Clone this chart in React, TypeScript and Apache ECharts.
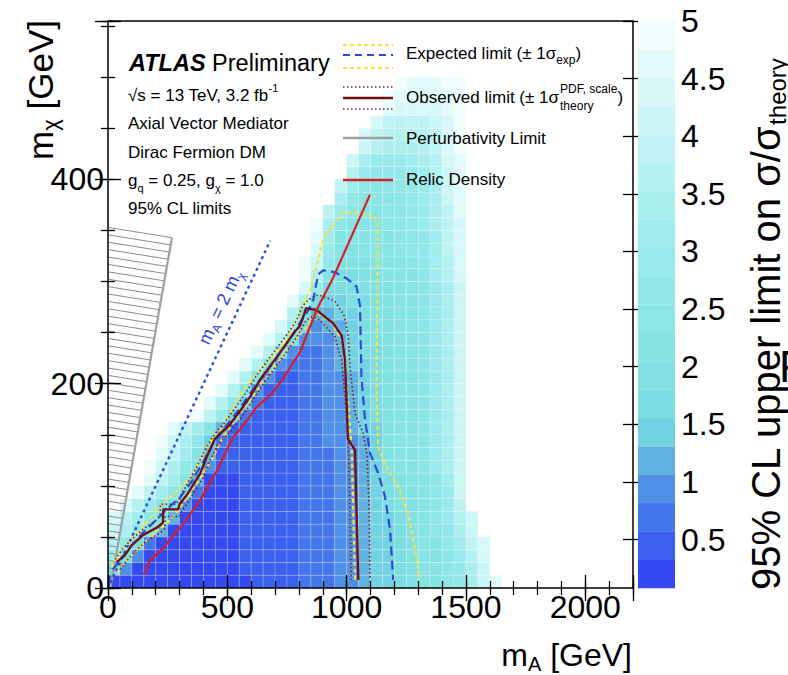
import React, { useEffect, useRef } from 'react';
import * as echarts from 'echarts';

const FONT = '"Liberation Sans", Arial, Helvetica, sans-serif';

// ---------- axes ----------
const X_MAX = 2200;
const Y_MAX = 555;
const xTickLabels = [0, 500, 1000, 1500, 2000];
const yTickLabels = [0, 200, 400];
const zTickValues = [0.5, 1, 1.5, 2, 2.5, 3, 3.5, 4, 4.5, 5];

// ---------- colour scale (20 contour bands between zMin and zMax) ----------
const zMin = 0.08;
const zMax = 5;
const bandColors = [
  '#3349f2', '#3a60ee', '#4376ea', '#4f8fe6', '#60b0e0',
  '#72d2e2', '#7cdde3', '#82e2e3', '#87e4e4', '#8ce6e6',
  '#92e8e8', '#99eaea', '#a1ecec', '#aaeeee', '#b4f1f1',
  '#bff3f3', '#cbf6f6', '#d7f8f8', '#e3fbfb', '#effdfd',
];
const bandCodes = '0123456789abcdefghij';

// ---------- heat map: bins of 50 GeV (m_A) x 12.5 GeV (m_chi) ----------
const xBin = 50;
const yBin = 12.5;
// one entry per m_chi bin (from bottom): [first m_A bin, band code per m_A bin]
const heatRows: [number, string][] = [
  [0, '000000000000 1111 222 33 4 55 6 7 88 9 a d g i'],
  [0, '6 3 000000000 11111 222 33 4 55 6 7 88 9 a d g'],
  [0, 'b 6 3 00000000 11111 222 33 4 55 6 7 88 9 b e h'],
  [0, 'e a 6 2 0000000 11111 222 33 4 55 6 7 88 a c f h'],
  [0, 'g d a 7 4 000000 11111 222 33 4 55 6 7 8 9 a d g'],
  [0, 'h e c 9 7 4 00000 11111 222 33 4 55 6 7 8 9 b e g'],
  [1, 'h e b 8 6 3 0000 11111 222 33 4 5 6 7 7 8 9 b f'],
  [2, 'i f c 9 6 2 000 11111 222 33 4 5 6 7 7 8 9 b g'],
  [3, 'i f c 8 4 000 11111 222 33 4 5 6 7 8 8 9 c g'],
  [3, 'j g d a 7 3 1111111 222 33 4 5 7 8 8 9 b d g'],
  [4, 'i f c 8 4 1111111 222 33 4 5 7 8 8 9 b d g'],
  [4, 'j g d a 5 2 111111 2 2 3 3 3 4 5 7 8 8 9 b d g'],
  [5, 'i f c 8 4 111111 22 33 4 5 5 7 8 8 9 b d g'],
  [7, 'j f b 5 2 1111 22 33 4 5 6 7 8 8 9 b d g'],
  [8, 'i e a 5 2 111 22 33 4 5 6 7 8 8 9 b d g'],
  [9, 'i e 8 3 111 22 33 4 5 6 7 8 8 9 b d g'],
  [10, 'i e 7 3 11 22 33 4 5 6 7 8 8 9 b d g'],
  [11, 'i e 7 3 222 3 4 5 5 6 7 8 8 9 b d g'],
  [12, 'i e 6 3 22 3 4 5 6 6 7 8 8 9 b d g'],
  [13, 'i e 6 3 3 3 4 5 6 7 7 8 8 9 b d g'],
  [14, 'h c 5 3 4 4 5 6 7 7 8 8 9 b d g'],
  [15, 'e 6 4 4 5 5 6 7 7 8 8 9 b d g'],
  [15, 'i d 6 5 5 6 6 7 7 8 8 9 b d g'],
  [16, 'h b 6 6 6 7 7 7 8 8 9 b d g'],
  [16, 'j e 8 6 6 7 7 8 8 8 9 c e h'],
  [16, 'j g a 7 7 7 8 8 8 9 a c e h'],
  [17, 'h b 8 7 8 8 8 9 9 a c f h'],
  [17, 'i c 8 8 8 8 8 9 9 a c f h'],
  [17, 'j d 9 8 8 8 9 9 a b d f h'],
  [18, 'f b 9 8 8 9 9 a b d f i'],
  [19, 'd a 9 9 9 9 a b d g i'],
  [19, 'f c a 9 9 a a b d g i'],
  [20, 'e b a a a b c e g i'],
  [20, 'g d b b b c d e h i'],
  [21, 'g e d d d e f h j'],
  [21, 'h f e e e e f h j'],
  [22, 'h f f f f g h j'],
  [23, 'i h h h h i j'],
  [23, 'j i i i i i j'],
  [24, 'j i i i j j'],
];

// ---------- contours [m_A, m_chi] ----------
const observed = [
  [36, 25], [70, 32], [100, 42], [148, 52], [211, 60], [230, 64], [232, 77], [294, 77], [300, 82],
  [330, 91], [386, 112], [413, 128], [448, 146], [469, 151], [504, 158], [553, 173], [595, 187],
  [637, 204], [707, 226], [777, 249], [805, 257], [822, 268], [830, 274], [874, 272], [944, 259],
  [979, 247], [986, 236], [993, 223], [1000, 184], [1005, 146], [1035, 135], [1049, 8],
];
const observedUp = [
  [30, 28], [60, 38], [100, 48], [150, 58], [198, 66], [218, 70], [220, 82], [285, 82], [316, 95],
  [371, 118], [400, 132], [433, 146], [455, 153], [490, 162], [538, 178], [580, 192], [622, 208],
  [692, 230], [762, 252], [790, 262], [815, 276], [839, 282], [880, 287], [950, 281], [991, 266],
  [1007, 246], [1014, 217], [1035, 171], [1070, 151], [1086, 129], [1095, 73], [1098, 8],
];
const observedDown = [
  [50, 18], [80, 27], [110, 35], [160, 46], [220, 54], [238, 58], [240, 70], [300, 70], [307, 74],
  [343, 87], [399, 108], [426, 124], [461, 140], [482, 146], [517, 154], [566, 169], [608, 184],
  [650, 200], [720, 222], [790, 245], [830, 262], [860, 266], [888, 262], [951, 246], [979, 223],
  [1000, 171], [1007, 138], [1014, 80], [1019, 8],
];
const expected = [
  [20, 18], [60, 30], [100, 42], [150, 55], [200, 66], [250, 78], [300, 88], [350, 104], [400, 124],
  [450, 145], [500, 160], [550, 175], [600, 192], [650, 207], [700, 223], [760, 243], [800, 258],
  [840, 272], [860, 282], [867, 291], [881, 307], [902, 311], [951, 309], [1000, 303], [1042, 295],
  [1056, 276], [1062, 207], [1077, 165], [1098, 132], [1133, 112], [1161, 89], [1182, 57], [1195, 8],
];
const expectedUp = [
  [15, 20], [36, 31], [106, 50], [160, 64], [218, 80], [290, 95], [357, 112], [420, 140], [480, 158],
  [567, 194], [651, 217], [749, 243], [805, 270], [853, 295], [874, 315], [902, 341], [951, 357],
  [987, 368], [1056, 367], [1118, 363], [1132, 357], [1125, 203], [1132, 138], [1160, 122],
  [1215, 99], [1257, 73], [1285, 40], [1306, 8],
];
const expectedDown = [
  [40, 15], [60, 22], [100, 32], [150, 44], [200, 55], [250, 64], [300, 78], [350, 95], [400, 112],
  [440, 128], [480, 147], [520, 160], [560, 173], [620, 192], [690, 214], [760, 236], [830, 255],
  [860, 265], [888, 268], [930, 262], [986, 240], [1021, 138], [1035, 8],
];
const relicDensity = [
  [150, 13], [176, 27], [232, 39], [267, 50], [316, 63], [386, 86], [455, 114], [525, 148], [553, 155],
  [623, 177], [686, 190], [728, 203], [805, 231], [874, 272], [944, 304], [1098, 385],
];
const massDiagonal = [[10, 5], [680, 340]];
const perturbativity = [[10, 0], [268, 343]];

// ---------- layout ----------
const PLOT = { left: 108, top: 21, width: 525, height: 567 };
const CBAR = { left: 638, top: 21, width: 37, height: 567 };

const bandStep = (zMax - zMin) / bandColors.length;
const colorOf = (v: number) => {
  const k = Math.max(0, Math.min(bandColors.length - 1, Math.floor((v - zMin) / bandStep)));
  return bandColors[k];
};

function buildHeatData() {
  const out: number[][] = [];
  heatRows.forEach(([start, codes], r) => {
    const cs = codes.replace(/\s+/g, '');
    for (let i = 0; i < cs.length; i++) {
      const k = bandCodes.indexOf(cs[i]);
      if (k < 0) continue;
      out.push([(start + i) * xBin, r * yBin, zMin + (k + 0.5) * bandStep]);
    }
  });
  return out;
}

function buildOption(): any {
  const tickStyle = { color: '#000', width: 1.3 };
  const common = { type: 'value', axisLine: { show: false }, splitLine: { show: false }, z: 10 };
  const lineSeries = (data: number[][], color: string, width: number, type: any, z = 5) => ({
    type: 'line', xAxisIndex: 0, yAxisIndex: 0, data, showSymbol: false, symbol: 'none',
    lineStyle: { color, width, type }, z, clip: true, silent: true,
  });
  return {
    animation: false,
    backgroundColor: '#fff',
    textStyle: { fontFamily: FONT },
    grid: [
      { ...PLOT, show: true, borderColor: '#000', borderWidth: 1.5, backgroundColor: 'transparent', z: 10 },
      { ...PLOT, show: false },
      { ...CBAR, show: false },
    ],
    xAxis: [
      { ...common, gridIndex: 0, min: 0, max: X_MAX, interval: 500, position: 'bottom',
        axisTick: { inside: true, length: 13, lineStyle: tickStyle },
        axisLabel: { margin: 3, fontSize: 32, color: '#000', fontFamily: FONT,
          formatter: (v: number) => (xTickLabels.includes(v) ? String(v) : '') } },
      { ...common, gridIndex: 0, min: 0, max: X_MAX, interval: 500, position: 'top',
        axisTick: { inside: true, length: 13, lineStyle: tickStyle }, axisLabel: { show: false } },
      { ...common, gridIndex: 1, min: 0, max: X_MAX, interval: 100, position: 'bottom',
        axisTick: { inside: true, length: 7, lineStyle: tickStyle }, axisLabel: { show: false } },
      { ...common, gridIndex: 1, min: 0, max: X_MAX, interval: 100, position: 'top',
        axisTick: { inside: true, length: 7, lineStyle: tickStyle }, axisLabel: { show: false } },
      { type: 'value', gridIndex: 2, min: 0, max: 1, show: false },
    ],
    yAxis: [
      { ...common, gridIndex: 0, min: 0, max: Y_MAX, interval: 200, position: 'left',
        axisTick: { inside: true, length: 13, lineStyle: tickStyle },
        axisLabel: { margin: 4, fontSize: 32, color: '#000', fontFamily: FONT,
          formatter: (v: number) => (yTickLabels.includes(v) ? String(v) : '') } },
      { ...common, gridIndex: 0, min: 0, max: Y_MAX, interval: 200, position: 'right',
        axisTick: { inside: true, length: 13, lineStyle: tickStyle }, axisLabel: { show: false } },
      { ...common, gridIndex: 1, min: 0, max: Y_MAX, interval: 50, position: 'left',
        axisTick: { inside: true, length: 7, lineStyle: tickStyle }, axisLabel: { show: false } },
      { ...common, gridIndex: 1, min: 0, max: Y_MAX, interval: 50, position: 'right',
        axisTick: { inside: true, length: 7, lineStyle: tickStyle }, axisLabel: { show: false } },
      { ...common, gridIndex: 2, min: zMin, max: zMax, position: 'right',
        axisTick: { inside: true, length: 15, lineStyle: tickStyle, customValues: zTickValues },
        axisLabel: { margin: 6, fontSize: 32, color: '#000', fontFamily: FONT, customValues: zTickValues } },
    ],
    series: [
      {
        type: 'custom', xAxisIndex: 0, yAxisIndex: 0, z: 1, clip: true, silent: true,
        encode: { x: 0, y: 1 },
        data: buildHeatData(),
        renderItem: (_p: any, api: any) => {
          const x0 = api.value(0), y0 = api.value(1), v = api.value(2);
          const a = api.coord([x0, y0]);
          const b = api.coord([x0 + xBin, y0 + yBin]);
          return {
            type: 'rect',
            shape: { x: a[0], y: b[1], width: b[0] - a[0], height: a[1] - b[1] },
            style: { fill: colorOf(v), stroke: 'rgba(255,255,255,0.3)', lineWidth: 0.6 },
          };
        },
      },
      {
        type: 'custom', xAxisIndex: 0, yAxisIndex: 0, z: 3, silent: true,
        data: [[0, 0]],
        renderItem: (_p: any, api: any) => {
          const top = api.coord(perturbativity[1]);
          const bot = api.coord(perturbativity[0]);
          const origin = api.coord([0, 0]);
          const left = origin[0] + 1;
          const bottomY = origin[1];
          const k = 0.16;
          const s = (bot[0] - top[0]) / (bot[1] - top[1]);
          const children: any[] = [];
          for (let y = top[1] - 10; y < bottomY; y += 7.4) {
            const x = (top[0] + s * (y - k * left - top[1])) / (1 - s * k);
            let yEnd = y + k * (x - left);
            if (yEnd < top[1] - 0.5) continue;
            let xEnd = x;
            if (yEnd > bottomY) { yEnd = bottomY; xEnd = left + (bottomY - y) / k; }
            children.push({ type: 'line', shape: { x1: left, y1: y, x2: xEnd, y2: yEnd },
              style: { stroke: '#8c8c8c', lineWidth: 1 } });
          }
          return { type: 'group', children };
        },
      },
      lineSeries(perturbativity, '#a0a0a0', 2.2, 'solid', 4),
      lineSeries(massDiagonal, '#2b4ee0', 2.4, [3, 3.5]),
      lineSeries(expectedUp, '#f2e14c', 2.2, [4, 3]),
      lineSeries(expectedDown, '#f2e14c', 2.2, [4, 3]),
      lineSeries(expected, '#2a4bd7', 2.2, [9, 5]),
      lineSeries(observedUp, '#6a2a2a', 1.6, [1.5, 2.5]),
      lineSeries(observedDown, '#6a2a2a', 1.6, [1.5, 2.5]),
      lineSeries(observed, '#6e1014', 2.3, 'solid', 6),
      lineSeries(relicDensity, '#d3202a', 2.2, 'solid', 7),
      {
        type: 'custom', xAxisIndex: 4, yAxisIndex: 4, silent: true,
        data: bandColors.map((_c, i) => [i]),
        renderItem: (_p: any, api: any) => {
          const i = api.value(0);
          const lo = zMin + i * bandStep;
          const a = api.coord([0, lo]);
          const b = api.coord([1, lo + bandStep]);
          return { type: 'rect', shape: { x: a[0], y: b[1], width: b[0] - a[0], height: a[1] - b[1] + 0.3 },
            style: { fill: bandColors[i] } };
        },
      },
    ],
  };
}

const measure = (txt: string, font: string) => {
  const ctx = document.createElement('canvas').getContext('2d');
  if (!ctx) return txt.length * 8;
  ctx.font = font;
  return ctx.measureText(txt).width;
};

function txt(x: number, y: number, text: string, rich: any, extra: any = {}, rotation = 0) {
  const align = extra.align || 'left';
  return {
    type: 'text', x, y, rotation, z: 50, silent: true,
    style: { text, rich, fill: extra.fill || '#000', fontFamily: FONT, fontSize: extra.fontSize || 17,
      align, textAlign: align, verticalAlign: 'middle', textVerticalAlign: 'middle' },
  };
}

function buildGraphics(chart: any) {
  const g: any[] = [];
  const L1 = 343, L2 = 393, TX = 406;
  const seg = (y: number, stroke: string, lineWidth: number, lineDash?: number[]) => g.push({
    type: 'line', z: 50, silent: true, shape: { x1: L1, y1: y, x2: L2, y2: y },
    style: { stroke, lineWidth, lineDash },
  });
  seg(45, '#f2e14c', 2.2, [4, 3]);
  seg(55, '#2a4bd7', 2.2, [7, 5]);
  seg(68, '#f2e14c', 2.2, [4, 3]);
  seg(87, '#7a2a2a', 1.6, [1.5, 2.5]);
  seg(98, '#6e1014', 2.5);
  seg(109, '#7a2a2a', 1.6, [1.5, 2.5]);
  seg(138, '#a0a0a0', 2.5);
  seg(180, '#d3202a', 2.5);

  const LF = 17;
  const base = { a: { fontSize: LF, fontFamily: FONT, lineHeight: 26, verticalAlign: 'middle' },
    s: { fontSize: 12, fontFamily: FONT, lineHeight: 12, verticalAlign: 'bottom' },
    p: { fontSize: 12, fontFamily: FONT, lineHeight: 12, verticalAlign: 'top' } };
  g.push(txt(TX, 53, '{a|Expected limit (± 1σ}{s|exp}{a|)}', base));
  const obsMain = 'Observed limit (± 1σ';
  g.push(txt(TX, 97, `{a|${obsMain}}`, base));
  const w = measure(obsMain, `${LF}px ${FONT}`);
  g.push(txt(TX + w + 1, 89, 'PDF, scale', null, { fontSize: 12 }));
  g.push(txt(TX + w + 1, 106, 'theory', null, { fontSize: 12 }));
  const w2 = measure('PDF, scale', `12px ${FONT}`);
  g.push(txt(TX + w + w2 + 1, 97, ')', null, { fontSize: LF }));
  g.push(txt(TX, 138, 'Perturbativity Limit', null, { fontSize: LF }));
  g.push(txt(TX, 179, 'Relic Density', null, { fontSize: LF }));

  // info block
  const IX = 128;
  g.push(txt(129, 63, '{b|ATLAS}{r| Preliminary}', {
    b: { fontSize: 23.5, fontWeight: 'bold', fontStyle: 'italic', fontFamily: FONT },
    r: { fontSize: 23.5, fontFamily: FONT },
  }));
  const info = { a: { fontSize: 17, fontFamily: FONT, lineHeight: 26, verticalAlign: 'middle' },
    s: { fontSize: 11, fontFamily: FONT, lineHeight: 11, verticalAlign: 'bottom' },
    p: { fontSize: 11, fontFamily: FONT, lineHeight: 11, verticalAlign: 'top' } };
  g.push(txt(IX, 95, '{a|√s = 13 TeV, 3.2 fb}{p|-1}', info));
  g.push(txt(IX, 123, 'Axial Vector Mediator', null, { fontSize: 17 }));
  g.push(txt(IX, 152, 'Dirac Fermion DM', null, { fontSize: 17 }));
  g.push(txt(IX, 180, '{a|g}{s|q}{a| = 0.25, g}{s|χ}{a| = 1.0}', info));
  g.push(txt(IX, 208, '95% CL limits', null, { fontSize: 17 }));

  // axis titles
  const big = { m: { fontSize: 32, fontFamily: FONT, lineHeight: 38, verticalAlign: 'middle' },
    s: { fontSize: 20, fontFamily: FONT, lineHeight: 20, verticalAlign: 'bottom' } };
  const bigY = { m: { fontSize: 35, fontFamily: FONT, lineHeight: 42, verticalAlign: 'middle' },
    s: { fontSize: 22, fontFamily: FONT, lineHeight: 22, verticalAlign: 'bottom' } };
  g.push(txt(632, 655, '{m|m}{s|A}{m| [GeV]}', big, { align: 'right' }));
  g.push(txt(40, 20, '{m|m}{s|χ}{m| [GeV]}', bigY, { align: 'right' }, Math.PI / 2));
  g.push(txt(766, 590, '{m|95% CL upper limit on σ/σ}{s|theory}', {
    m: { fontSize: 40, fontFamily: FONT, lineHeight: 46, verticalAlign: 'middle' },
    s: { fontSize: 24, fontFamily: FONT, lineHeight: 24, verticalAlign: 'bottom' },
  }, { align: 'left' }, Math.PI / 2));
  g.push(txt(779, 366, 'F', null, { fontSize: 44 }));

  // m_A = 2 m_chi label along the diagonal
  const p0 = chart.convertToPixel({ xAxisIndex: 0, yAxisIndex: 0 }, massDiagonal[0]);
  const p1 = chart.convertToPixel({ xAxisIndex: 0, yAxisIndex: 0 }, massDiagonal[1]);
  const ang = Math.atan2(-(p1[1] - p0[1]), p1[0] - p0[0]);
  const c = chart.convertToPixel({ xAxisIndex: 0, yAxisIndex: 0 }, [470, 275]);
  g.push(txt(c[0], c[1], '{m|m}{s|A}{m| = 2 m}{s|χ}', {
    m: { fontSize: 18, fontFamily: FONT, lineHeight: 24, verticalAlign: 'middle', color: '#2b44dc' },
    s: { fontSize: 12, fontFamily: FONT, lineHeight: 12, verticalAlign: 'bottom', color: '#2b44dc' },
  }, { align: 'center', fill: '#2b44dc' }, ang));
  return g;
}

export default function App() {
  const ref = useRef<HTMLDivElement>(null);
  useEffect(() => {
    if (!ref.current) return;
    const chart = echarts.init(ref.current, null, { renderer: 'svg' });
    chart.setOption(buildOption());
    chart.setOption({ graphic: buildGraphics(chart) });
    return () => chart.dispose();
  }, []);
  return (
    <div
      ref={ref}
      style={{ position: 'fixed', left: 0, top: 0, width: 788, height: 675, background: '#fff' }}
    />
  );
}
